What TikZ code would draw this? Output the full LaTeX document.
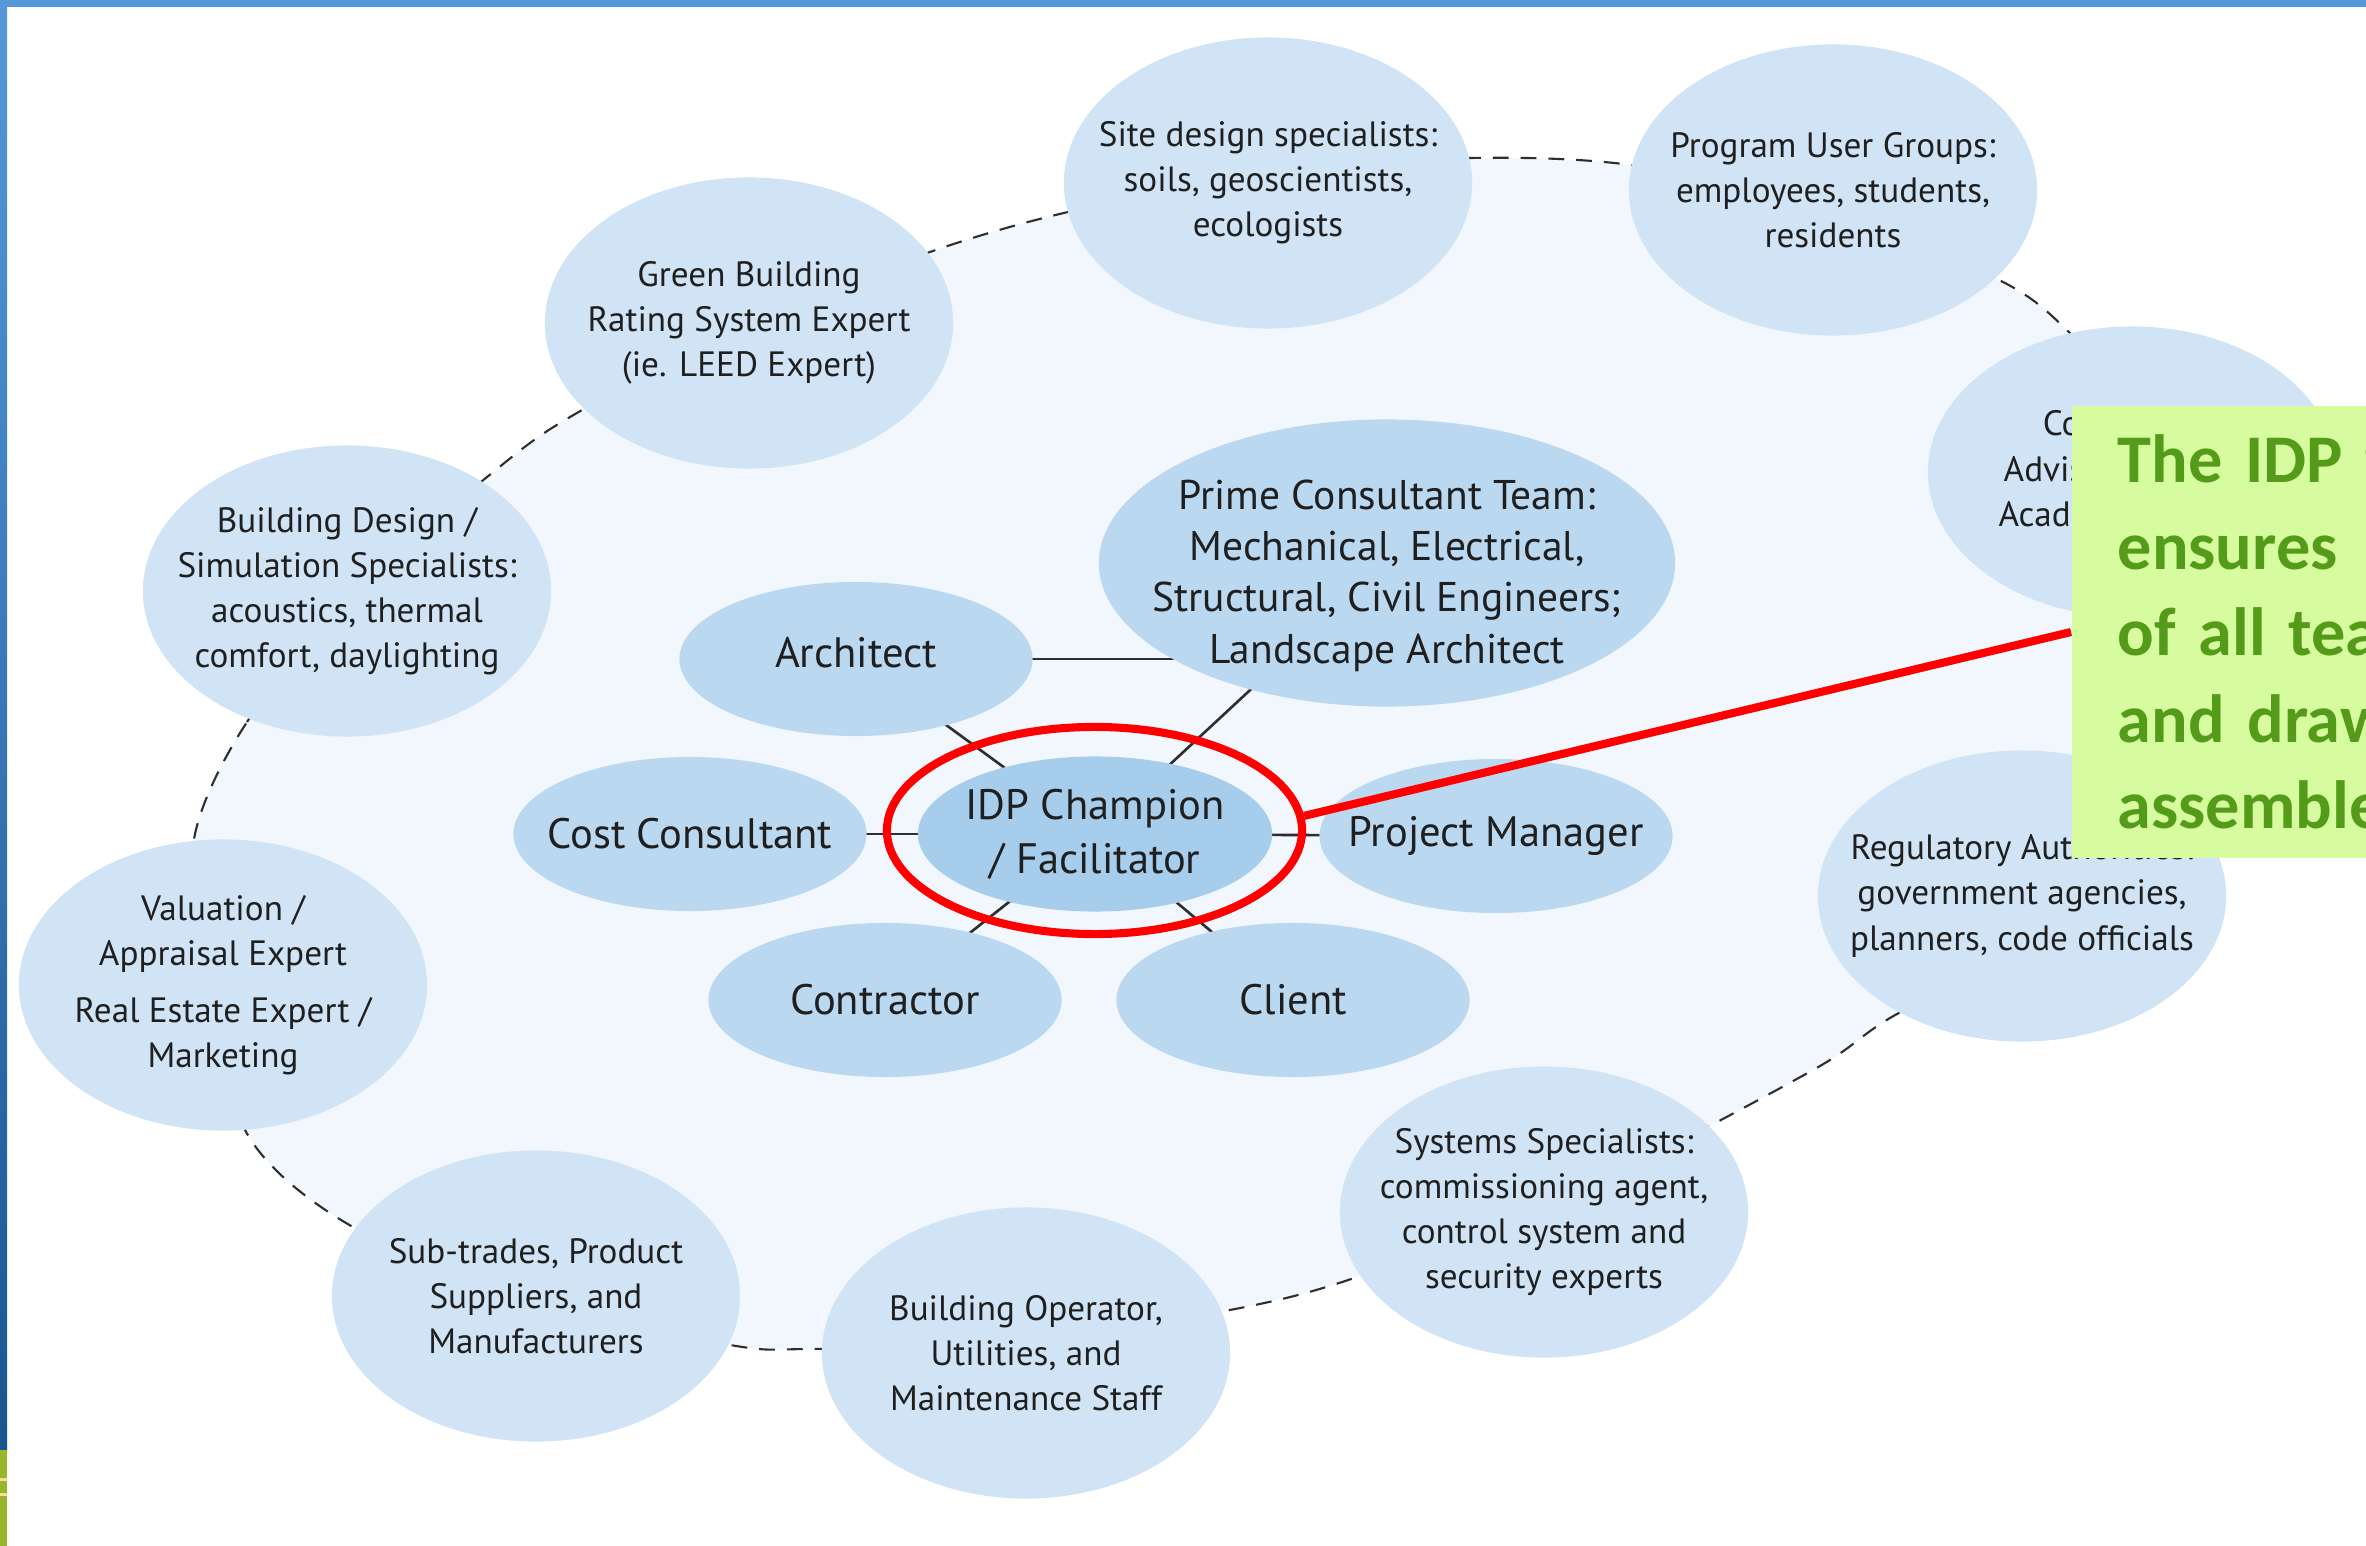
\documentclass[tikz,border=0pt]{standalone}
\usepackage{fontspec}
\setmainfont{PT Sans}
\newfontfamily\calloutfont{Carlito}
\usetikzlibrary{positioning,shapes.geometric,backgrounds}

\definecolor{ringfill}{HTML}{D0E4F5}
\definecolor{corefill}{HTML}{BBD8F1}
\definecolor{hubfill}{HTML}{A7CDEC}
\definecolor{bgfill}{HTML}{F1F7FC}
\definecolor{inktext}{HTML}{1F1F1F}
\definecolor{linkgray}{HTML}{2E2E2E}
\definecolor{notefill}{HTML}{D7FC9F}
\definecolor{notetext}{HTML}{559B1A}
\definecolor{barlight}{HTML}{5598D6}
\definecolor{bardark}{HTML}{1A5592}
\definecolor{bargreen}{HTML}{99B52C}
\definecolor{baryellow}{HTML}{F2E28A}

\begin{document}
\begin{tikzpicture}[x=0.01cm,y=-0.01cm,
  ringnode/.style={ellipse,fill=ringfill,minimum width=4.08cm,minimum height=2.91cm,
    inner xsep=-0.8cm,inner ysep=-0.2cm,align=center,text=inktext,
    font=\fontsize{10pt}{12.8pt}\selectfont},
  corenode/.style={ellipse,fill=corefill,minimum width=3.53cm,minimum height=1.54cm,
    inner xsep=-0.7cm,inner ysep=-0.2cm,align=center,text=inktext,
    font=\fontsize{12.1pt}{15.4pt}\selectfont},
  hubnode/.style={corenode,fill=hubfill,minimum width=3.54cm,minimum height=1.55cm},
  link/.style={draw=linkgray,line width=0.75pt},
  notebox/.style={rectangle,fill=notefill,minimum height=4.51cm,text width=4cm,
    align=left,inner xsep=0.46cm,inner ysep=0pt,text=notetext,
    font=\calloutfont\bfseries\fontsize{19.4pt}{24.6pt}\selectfont}]
\useasboundingbox (0,0) rectangle (2366,1546);
\clip (0,0) rectangle (2366,1546);

% outer ring of the team
\node[ringnode] (0) at (749,323) {Green Building\\Rating System Expert\\(ie. LEED Expert)};
\node[ringnode] (1) at (1268,183) {Site design specialists:\\soils, geoscientists,\\ecologists};
\node[ringnode] (2) at (1833,190) {Program User Groups:\\employees, students,\\residents};
\node[ringnode] (3) at (2132,472) {Community:\\Advisors, Groups,\\Academic Experts};
\node[ringnode] (4) at (2022,896) {Regulatory Authorities:\\government agencies,\\planners, code officials};
\node[ringnode] (5) at (1544,1212) {Systems Specialists:\\commissioning agent,\\control system and\\security experts};
\node[ringnode] (6) at (1026,1353) {Building Operator,\\Utilities, and\\Maintenance Staff};
\node[ringnode] (7) at (536,1296) {Sub-trades, Product\\Suppliers, and\\Manufacturers};
\node[ringnode] (8) at (223,985) {Valuation /\\Appraisal Expert\\[3.4pt]Real Estate Expert /\\Marketing};
\node[ringnode] (9) at (347,591) {Building Design /\\Simulation Specialists:\\acoustics, thermal\\comfort, daylighting};

% core team
\node[corenode,minimum width=5.76cm,minimum height=2.87cm,font=\fontsize{11.8pt}{14.6pt}\selectfont] (t) at (1387,563) {\rule{0pt}{15.5pt}Prime Consultant Team:\\Mechanical, Electrical,\\Structural, Civil Engineers;\\Landscape Architect};
\node[corenode] (a) at (856,659) {\rule[-4pt]{0pt}{4pt}Architect};
\node[corenode] (k) at (690,834) {Cost Consultant};
\node[hubnode] (c) at (1095,834) {IDP Champion\\/ Facilitator};
\node[corenode] (m) at (1496,836) {Project Manager};
\node[corenode] (x) at (885,1000) {Contractor};
\node[corenode] (l) at (1293,1000) {Client};

\begin{scope}[on background layer]
\draw[draw=linkgray,line width=0.6pt,dash pattern=on 4.5pt off 3.4pt,fill=bgfill]
  plot[smooth cycle] coordinates {(194,839) (247,722) (358,588) (492,473) (570,417)
  (745,325) (930,252) (1068,212) (1269,172) (1470,158) (1631,165) (1817,205)
  (2003,282) (2073,336) (2150,420) (2195,540) (2200,680) (2150,820) (2040,935)
  (1890,1018) (1813,1070) (1592,1185) (1360,1276) (1230,1310) (1019,1342)
  (808,1349) (730,1345) (525,1302) (346,1223) (249,1137) (200,985)};
\draw[link](a.center)--(a.center -| t.center);
\draw[link](a.center)--(c.center);
\draw[link](t.center)--(c.center);
\draw[link](k.center)--(c.center);
\draw[link](c.center)--(m.center);
\draw[link](c.center)--(x.center);
\draw[link](c.center)--(l.center);
\end{scope}

% highlight and callout
\node[ellipse,draw=red,line width=2.3pt,minimum width=4.15cm,minimum height=2.07cm,inner sep=0pt] (r) at (1094.5,830.5) {};
\node[notebox,anchor=west] (n) at (2071,632) {The IDP team\\ensures\\of all team\\and drawings\\assembled};
\draw[red,line width=2.3pt](r.4)--(n.west);

% slide frame
\fill[barlight] (0,0) rectangle (2366,7);
\shade[top color=barlight,bottom color=bardark] (0,0) rectangle (7,1450);
\fill[bargreen] (0,1450) rectangle (7,1546);
\fill[baryellow] (0,1478) rectangle (7,1481);
\fill[baryellow] (0,1493) rectangle (7,1496);
\end{tikzpicture}
\end{document}
